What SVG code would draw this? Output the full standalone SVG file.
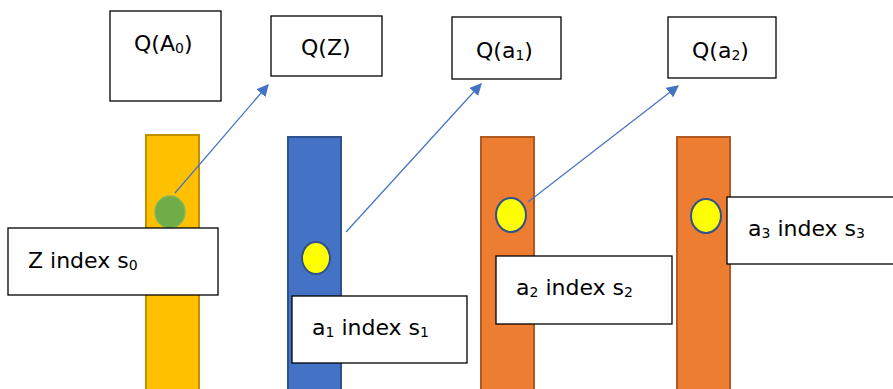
<svg xmlns="http://www.w3.org/2000/svg" width="893" height="389" viewBox="0 0 893 389">
<style>
.box{fill:#fff;stroke:#000;stroke-width:1.3}
.t{font-family:"DejaVu Sans","Open Sans",sans-serif;font-size:22px;fill:#000}
.sub{font-size:14px}
.conn{stroke:#4472C4;stroke-width:1.2;fill:none;marker-end:url(#ah)}
.dot{fill:#FFFF00;stroke:#2F528F;stroke-width:2}
</style>
<defs>
<marker id="ah" viewBox="0 0 10 10" refX="9" refY="5" markerWidth="12" markerHeight="12" markerUnits="userSpaceOnUse" orient="auto">
<path d="M0,0 L10,5 L0,10 Z" fill="#4472C4"/>
</marker>
</defs>
<g id="bar-yellow"><rect x="146" y="135" width="53" height="260" fill="#FFC000" stroke="#BF9000" stroke-width="2"/></g>
<g id="bar-blue"><rect x="288" y="137" width="53" height="260" fill="#4472C4" stroke="#2F528F" stroke-width="2"/></g>
<g id="bar-orange1"><rect x="481" y="137" width="53" height="260" fill="#ED7D31" stroke="#AE5A21" stroke-width="2"/></g>
<g id="bar-orange2"><rect x="677" y="137" width="53" height="260" fill="#ED7D31" stroke="#AE5A21" stroke-width="2"/></g>
<g id="dot-z"><ellipse cx="170" cy="212" rx="15" ry="16" fill="#70AD47" stroke="#7FB95A" stroke-width="1.5"/></g>
<g id="dot-a1"><ellipse cx="316" cy="258" rx="14" ry="16" class="dot"/></g>
<g id="dot-a2"><ellipse cx="511" cy="215" rx="15" ry="17" class="dot"/></g>
<g id="dot-a3"><ellipse cx="706" cy="216" rx="15" ry="17" class="dot"/></g>
<g id="connectors">
<line class="conn" x1="175" y1="193" x2="268" y2="85"/>
<line class="conn" x1="346" y1="232" x2="481" y2="84"/>
<line class="conn" x1="528" y1="202" x2="678" y2="86"/>
</g>
<g id="qA0"><rect class="box" x="110" y="11" width="111" height="90"/><text class="t" x="134" y="51">Q(A<tspan class="sub" dy="2">0</tspan><tspan dy="-2">)</tspan></text></g>
<g id="qZ"><rect class="box" x="271" y="16" width="111" height="60"/><text class="t" x="301" y="55">Q(Z)</text></g>
<g id="qa1"><rect class="box" x="452" y="17" width="109" height="62"/><text class="t" x="476" y="58">Q(a<tspan class="sub" dy="2">1</tspan><tspan dy="-2">)</tspan></text></g>
<g id="qa2"><rect class="box" x="668" y="17" width="108" height="61"/><text class="t" x="692" y="58">Q(a<tspan class="sub" dy="2">2</tspan><tspan dy="-2">)</tspan></text></g>
<g id="lz"><rect class="box" x="8" y="228" width="210" height="67"/><text class="t" x="28" y="268">Z index s<tspan class="sub" dy="2">0</tspan></text></g>
<g id="la1"><rect class="box" x="292" y="296" width="175" height="67"/><text class="t" x="312" y="335">a<tspan class="sub" dy="2">1</tspan><tspan dy="-2"> index s</tspan><tspan class="sub" dy="2">1</tspan></text></g>
<g id="la2"><rect class="box" x="496" y="256" width="176" height="68"/><text class="t" x="516" y="295">a<tspan class="sub" dy="2">2</tspan><tspan dy="-2"> index s</tspan><tspan class="sub" dy="2">2</tspan></text></g>
<g id="la3"><rect class="box" x="727" y="197" width="170" height="67"/><text class="t" x="748" y="236">a<tspan class="sub" dy="2">3</tspan><tspan dy="-2"> index s</tspan><tspan class="sub" dy="2">3</tspan></text></g>
</svg>
